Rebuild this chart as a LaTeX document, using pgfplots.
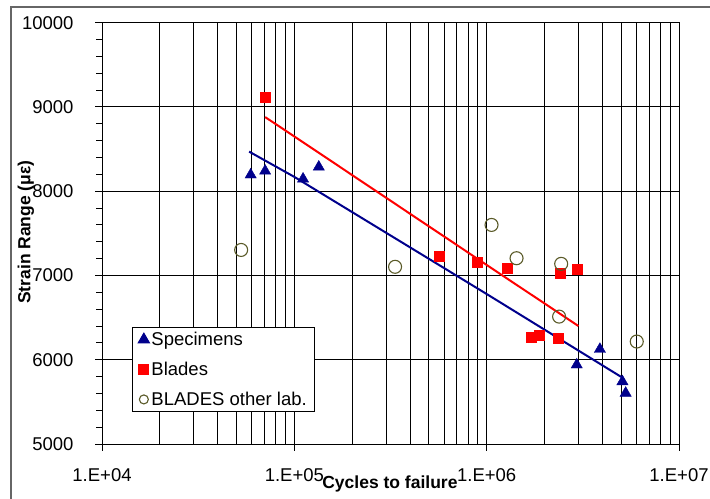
\documentclass[border=0pt]{standalone}
\usepackage{fontspec}
\setmainfont{Liberation Sans}
\usepackage{pgfplots}
\pgfplotsset{compat=1.18}
\definecolor{navyb}{RGB}{0,0,140}
\definecolor{olivec}{RGB}{90,90,40}
\begin{document}
\begin{tikzpicture}
\begin{axis}[
  at={(102bp,55bp)}, anchor=south west,
  scale only axis, width=577bp, height=421.3bp,
  xmode=log, xmin=1e4, xmax=1e7, ymin=5000, ymax=10000,
  scaled y ticks=false,
  xtick={1e4,1e5,1e6,1e7},
  xticklabels={1.E+04,1.E+05,1.E+06,1.E+07},
  ytick={5000,6000,7000,8000,9000,10000},
  yticklabels={5000,6000,7000,8000,9000,10000},
  minor y tick num=4,
  xtick pos=bottom, ytick pos=left,
  tick align=outside,
  major tick length=7bp, minor tick length=6bp,
  minor x tick style={draw=none},
  xmajorgrids=true, xminorgrids=true, ymajorgrids=true,
  major grid style={black, line width=1bp},
  minor grid style={black, line width=1bp},
  axis line style={black, line width=1bp},
  tick style={black, line width=1bp},
  tick label style={font=\fontsize{18.5bp}{21bp}\selectfont, text=black},
  xticklabel style={yshift=-14bp},
  yticklabel style={xshift=-18bp},
  xlabel={Cycles to failure},
  ylabel={Strain Range (με)},
  xlabel style={at={(axis description cs:0.499,0)}, anchor=center, yshift=-40bp, font=\fontsize{17.5bp}{20bp}\selectfont\bfseries},
  ylabel style={at={(axis description cs:0,0.503)}, anchor=center, yshift=76bp, font=\fontsize{17.5bp}{20bp}\selectfont\bfseries},
  legend style={at={(0.0515,0.2784)}, anchor=north west, draw=black, line width=1bp, fill=white,
    font=\fontsize{18.5bp}{21bp}\selectfont, inner xsep=6bp, inner ysep=3bp, row sep=11bp,
    /tikz/every even column/.append style={column sep=3bp}},
  legend cell align=left,
  legend image code/.code={\draw[#1] plot coordinates {(0.1cm,0cm)};},
]
\addplot[only marks, mark=triangle*, mark size=6.5bp, color=navyb, mark options={fill=navyb}]
coordinates {(59300,8195) (70500,8240) (111000,8146) (134000,8288) (2940000,5940) (3880000,6125) (5080000,5741) (5280000,5604)};
\addlegendentry{Specimens}
\addplot[only marks, mark=square*, mark size=5bp, color=red, mark options={fill=red}]
coordinates {(70500,9110) (567000,7224) (897000,7160) (1280000,7087) (2410000,7027) (2940000,7075) (1710000,6268) (1870000,6287) (2350000,6256)};
\addlegendentry{Blades}
\addplot[only marks, mark=o, mark size=6.5bp, color=olivec, mark options={fill=white, line width=1.1bp}, legend image post style={mark size=4.5bp}]
coordinates {(52900,7303) (334000,7103) (1060000,7600) (1430000,7205) (2440000,7138) (2380000,6512) (6030000,6216)};
\addlegendentry{BLADES other lab.}
\addplot[forget plot, red, line width=2bp] coordinates {(70500,8880) (100000,8650) (1000000,7125) (3000000,6400)};
\addplot[forget plot, navyb, line width=2bp] coordinates {(58200,8470) (100000,8170) (1000000,6780) (5140000,5780)};
\end{axis}
\draw[black!60, line width=2bp] (11bp,0bp) -- (11bp,492bp) -- (710bp,492bp);
\pgfresetboundingbox
\useasboundingbox (0,0) rectangle (710bp,499bp);
\end{tikzpicture}
\end{document}
